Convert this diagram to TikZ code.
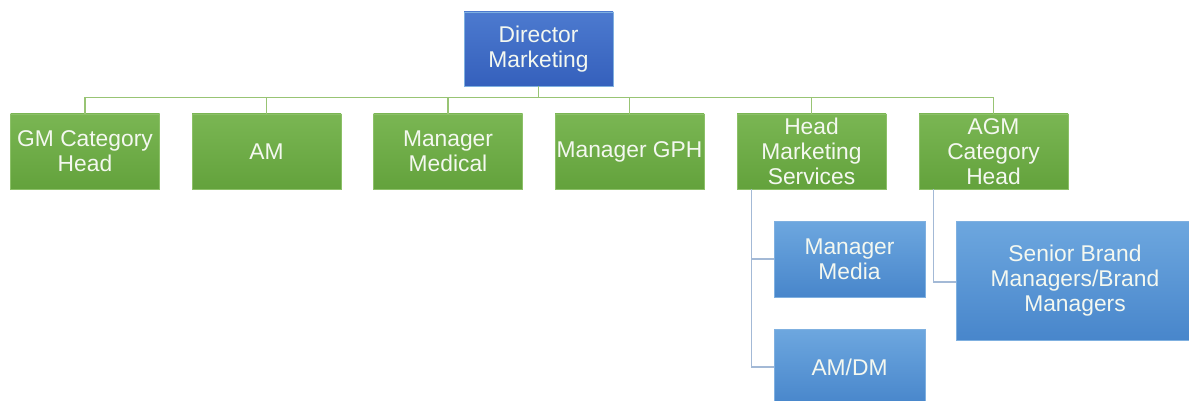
\documentclass[tikz,border=0pt]{standalone}
\usepackage{fontspec}
\setmainfont{Liberation Sans}
\usepackage{xcolor}
\usetikzlibrary{calc,positioning}

\definecolor{grnTop}{HTML}{7AB653}
\definecolor{grnBot}{HTML}{63A23C}
\definecolor{grnEdge}{HTML}{8CC068}
\definecolor{bluTop}{HTML}{6DA7DF}
\definecolor{bluBot}{HTML}{4886CB}
\definecolor{bluEdge}{HTML}{7FB0E0}
\definecolor{dirTop}{HTML}{4C7ACF}
\definecolor{dirBot}{HTML}{3560BC}
\definecolor{busline}{HTML}{98C474}
\definecolor{subline}{HTML}{A3B9D6}
\definecolor{txt}{HTML}{F4F8F0}

\tikzset{
  box/.style={rectangle,inner sep=0pt,align=center,text=txt,
    font=\fontsize{22.8}{25}\selectfont,line width=0.8pt},
  headbox/.style={box,draw=bluEdge,top color=dirTop,bottom color=dirBot,
    minimum width=149pt,minimum height=74pt},
  catbox/.style={box,draw=grnEdge,top color=grnTop,bottom color=grnBot,
    minimum width=149pt,minimum height=75pt},
  subbox/.style={box,draw=bluEdge,top color=bluTop,bottom color=bluBot},
  bus/.style={draw=busline,line width=1.6pt},
  sub/.style={draw=subline,line width=1.6pt}
}

\begin{document}
\begin{tikzpicture}[x=1pt,y=1pt]
            \useasboundingbox (0,0) rectangle (1189,-401);
            \clip (0,0) rectangle (1189,-401);
            \node[headbox] (dir) at (538.5,-49) {Director\\Marketing};
            % first row under the director
            \foreach \x/\n/\t in {85/c1/{GM Category\\Head},266.5/c2/AM,448/c3/{Manager\\Medical},
                                  629.5/c4/Manager GPH,811.5/c5/{Head\\Marketing\\Services},993.5/c6/{AGM\\Category\\Head}}{
                    \node[catbox] (\n) at (\x,-151.5) {\t};
                    \draw[bus] (dir.south) -- ++(0,-11) -| (\n.north);}
            % second row
            \node[subbox,minimum width=151pt,minimum height=76pt] (media) at (849.5,-259) {Manager\\Media};
            \node[subbox,minimum width=151pt,minimum height=76pt] (amdm) at (849.5,-367) {AM/DM};
            \node[subbox,minimum width=238pt,minimum height=119pt] (brand) at (1075,-280.5) {Senior Brand\\Managers/Brand\\Managers};
            \draw[sub] ($(c5.south west)+(15,0)$) |- (media.west);
            \draw[sub] ($(c5.south west)+(15,0)$) |- (amdm.west);
            \draw[sub] ($(c6.south west)+(15,0)$) |- ($(brand.west)+(0,-1.5)$);
        \end{tikzpicture}
\end{document}
